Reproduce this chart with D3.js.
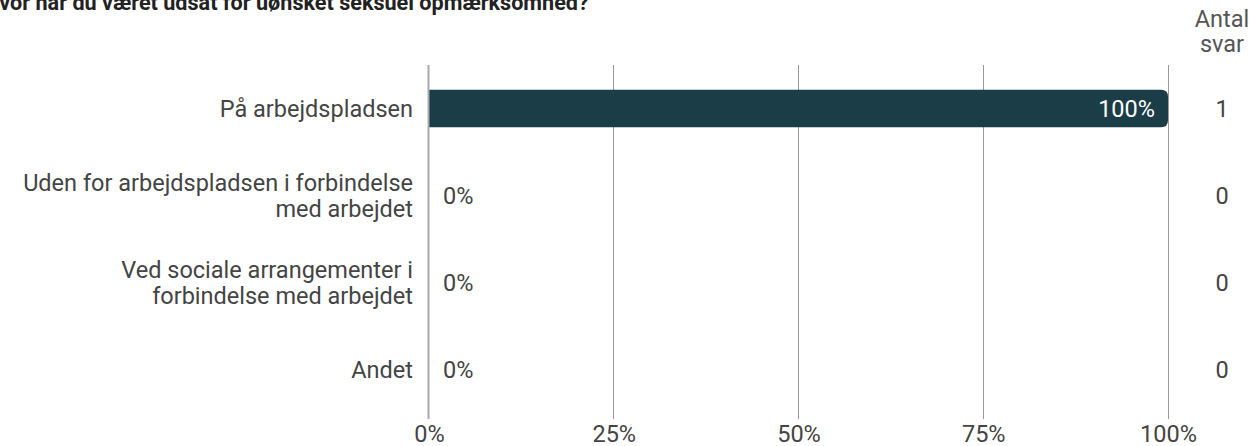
<!DOCTYPE html>
<html><head><meta charset="utf-8">
<script src="https://cdn.jsdelivr.net/npm/d3@7"></script>
<style>
html,body{margin:0;padding:0;background:#fff;overflow:hidden}
text{font-family:Roboto,"Noto Sans",sans-serif}
.b{font-size:23.5px}
</style></head>
<body>
<svg id="c" width="1252" height="446"></svg>
<script>
const title = "Hvor har du været udsat for uønsket seksuel opmærksomhed?";
const categories = [
  ["På arbejdspladsen"],
  ["Uden for arbejdspladsen i forbindelse", "med arbejdet"],
  ["Ved sociale arrangementer i", "forbindelse med arbejdet"],
  ["Andet"]
];
const shares = [100, 0, 0, 0];
const counts = [1, 0, 0, 0];
const ticks = [0, 25, 50, 75, 100];
const countHeader = ["Antal", "svar"];

const svg = d3.select("#c");
const x = d3.scaleLinear().domain([0, 100]).range([429, 1168]);
const y = d3.scaleBand().domain(d3.range(categories.length)).range([65, 413]).paddingInner(0.57).paddingOuter(0.285);

svg.append("text").attr("x", -16).attr("y", 10).attr("font-size", 21.6).attr("font-weight", 700)
  .attr("fill", "#222").text(title);

// header
svg.append("text").attr("class", "b").attr("text-anchor", "middle").attr("fill", "#555")
  .selectAll("tspan").data(countHeader).join("tspan")
  .attr("x", 1222).attr("y", (d, i) => 27 + i * 25).text(d => d);

// grid
svg.append("g").selectAll("line").data(ticks.slice(1)).join("line")
  .attr("x1", d => x(d)).attr("x2", d => x(d)).attr("y1", 65).attr("y2", 419)
  .attr("stroke", "#999").attr("stroke-width", 1).attr("shape-rendering", "crispEdges");

// bars
const bh = y.bandwidth(), r = 7;
svg.append("g").selectAll("path").data(shares).join("path")
  .attr("fill", "#1b3d48")
  .attr("d", (d, i) => {
    if (d <= 0) return null;
    const x0 = x(0), x1 = x(d), y0 = y(i), y1 = y(i) + bh;
    return `M${x0},${y0}H${x1 - r}Q${x1},${y0} ${x1},${y0 + r}V${y1 - r}Q${x1},${y1} ${x1 - r},${y1}H${x0}Z`;
  });

// axis line
svg.append("line").attr("x1", 428.5).attr("x2", 428.5).attr("y1", 65).attr("y2", 419)
  .attr("stroke", "#aaa").attr("stroke-width", 2);

// category labels
const cg = svg.append("g");
categories.forEach((lines, i) => {
  const cy = y(i) + bh / 2;
  const t = cg.append("text").attr("class", "b").attr("text-anchor", "end").attr("fill", "#444");
  lines.forEach((l, j) => {
    t.append("tspan").attr("x", 413)
      .attr("y", cy + (j - (lines.length - 1) / 2) * 26).attr("dy", "0.35em").text(l);
  });
});

// value labels
svg.append("g").selectAll("text").data(shares).join("text")
  .attr("class", "b").attr("dy", "0.35em")
  .attr("y", (d, i) => y(i) + bh / 2)
  .attr("x", d => d > 10 ? x(d) - 13 : x(d) + 14)
  .attr("text-anchor", d => d > 10 ? "end" : "start")
  .attr("fill", d => d > 10 ? "#fff" : "#444")
  .text(d => d + "%");

// counts
svg.append("g").selectAll("text").data(counts).join("text")
  .attr("class", "b").attr("dy", "0.35em").attr("text-anchor", "middle").attr("fill", "#444")
  .attr("x", 1222).attr("y", (d, i) => y(i) + bh / 2).text(d => d);

// bottom axis
const ax = svg.append("g").attr("transform", "translate(0,419)")
  .call(d3.axisBottom(x).tickValues(ticks).tickFormat(d => d + "%").tickSize(0));
ax.select(".domain").remove();
ax.selectAll("text").attr("class", "b").attr("fill", "#444").attr("font-family", "Roboto")
  .attr("y", 23).attr("dy", 0);
</script>
</body></html>
